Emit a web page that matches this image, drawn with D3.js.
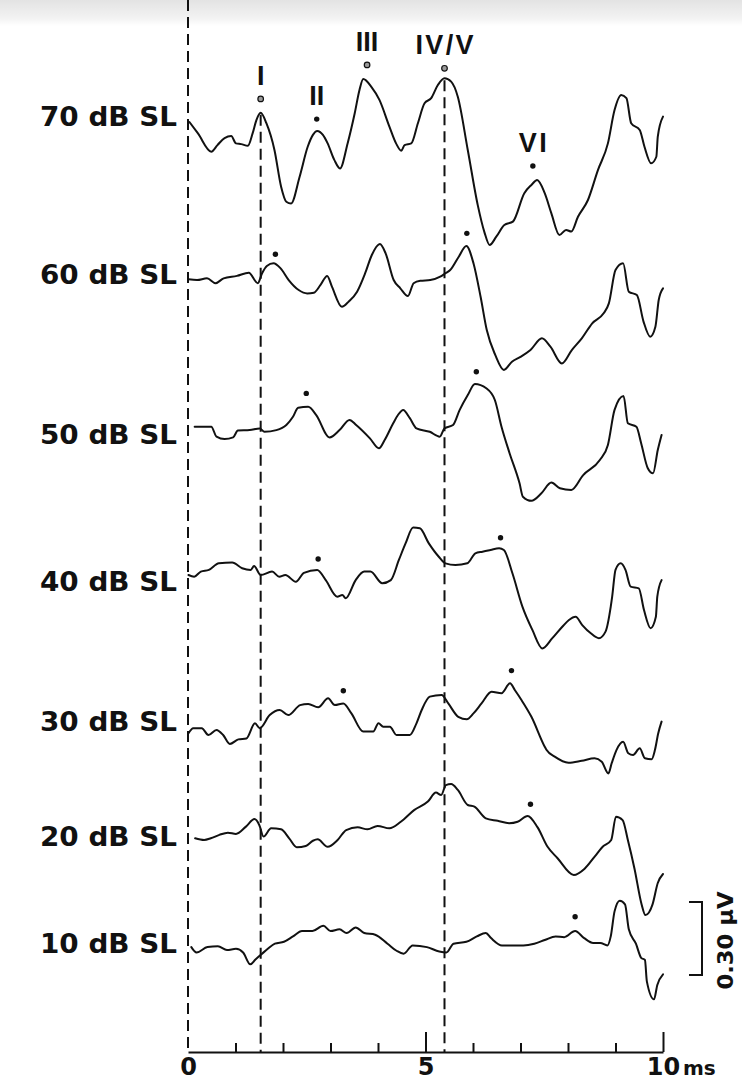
<!DOCTYPE html>
<html>
<head>
<meta charset="utf-8">
<script src="https://cdn.jsdelivr.net/npm/d3@7"></script>
<style>
  html, body { margin: 0; padding: 0; background: #fff; }
  svg { display: block; }
  text { font-family: "Liberation Sans", Arial, Helvetica, sans-serif; font-weight: bold; fill: #111; }
  text.wide { font-family: "DejaVu Sans", "Liberation Sans", Arial, sans-serif; }
</style>
</head>
<body>
<svg id="chart" width="742" height="1082"></svg>
<script>
// Stimulus levels, top to bottom
const levels = ["70 dB SL", "60 dB SL", "50 dB SL", "40 dB SL", "30 dB SL", "20 dB SL", "10 dB SL"];

// Sweeps: [latency (ms), amplitude (µV, relative to sweep start)]
const sweep70 = [[0.03,0],[0.21,-0.047],[0.49,-0.122],[0.62,-0.095],[0.77,-0.066],[0.91,-0.058],[1.01,-0.088],[1.12,-0.091],[1.26,-0.098],[1.36,-0.047],[1.44,0.008],[1.53,0.038],[1.65,-0.005],[1.82,-0.115],[1.96,-0.266],[2.07,-0.328],[2.17,-0.335],[2.35,-0.225],[2.52,-0.102],[2.63,-0.053],[2.72,-0.037],[2.84,-0.053],[2.94,-0.088],[3.08,-0.156],[3.20,-0.191],[3.36,-0.088],[3.51,0.036],[3.61,0.132],[3.69,0.177],[3.86,0.145],[4.03,0.091],[4.24,-0.019],[4.38,-0.088],[4.49,-0.118],[4.56,-0.095],[4.70,-0.088],[4.84,-0.005],[4.98,0.077],[5.12,0.098],[5.26,0.152],[5.40,0.180],[5.54,0.166],[5.68,0.104],[5.89,-0.115],[6.10,-0.342],[6.24,-0.453],[6.35,-0.506],[6.49,-0.472],[6.66,-0.424],[6.84,-0.410],[7.08,-0.293],[7.23,-0.259],[7.35,-0.239],[7.51,-0.293],[7.65,-0.376],[7.82,-0.465],[7.96,-0.444],[8.07,-0.451],[8.21,-0.390],[8.42,-0.321],[8.63,-0.198],[8.84,-0.088],[8.98,0.049],[9.12,0.111],[9.23,0.098],[9.33,-0.005],[9.51,-0.033],[9.61,-0.102],[9.75,-0.170],[9.86,-0.143],[9.89,-0.060],[10.00,0.022]];

const sweep60 = [[0.01,0],[0.19,-0.003],[0.40,0.004],[0.58,-0.016],[0.75,0.004],[1.03,0.014],[1.28,0.027],[1.47,-0.016],[1.56,0.025],[1.66,0.055],[1.80,0.066],[1.95,0.045],[2.12,-0.003],[2.33,-0.044],[2.51,-0.058],[2.65,-0.055],[2.79,-0.023],[2.93,0.014],[3.03,-0.030],[3.24,-0.113],[3.38,-0.092],[3.56,-0.051],[3.73,0.025],[3.87,0.100],[4.04,0.145],[4.16,0.107],[4.33,-0.003],[4.47,-0.037],[4.63,-0.069],[4.75,-0.016],[4.89,-0.006],[5.10,-0.003],[5.31,0.011],[5.42,0.025],[5.52,0.038],[5.70,0.093],[5.86,0.137],[6.01,0.066],[6.16,-0.072],[6.29,-0.209],[6.47,-0.312],[6.65,-0.373],[6.82,-0.339],[7.00,-0.319],[7.21,-0.291],[7.45,-0.243],[7.63,-0.277],[7.87,-0.346],[8.08,-0.291],[8.29,-0.243],[8.51,-0.181],[8.75,-0.140],[8.86,-0.099],[9.00,0.038],[9.16,0.066],[9.28,-0.051],[9.45,-0.065],[9.59,-0.174],[9.73,-0.236],[9.84,-0.195],[9.91,-0.085],[10.00,-0.037]];

const sweep50 = [[0.14,0],[0.49,0],[0.60,-0.041],[0.77,-0.051],[0.95,-0.044],[1.05,-0.016],[1.30,-0.014],[1.51,-0.007],[1.61,-0.021],[1.86,-0.014],[2.07,0.007],[2.21,0.041],[2.32,0.078],[2.53,0.082],[2.70,0.048],[2.98,-0.044],[3.19,-0.014],[3.40,0.028],[3.54,0.007],[3.83,-0.048],[4.02,-0.089],[4.14,-0.055],[4.32,0.014],[4.42,0.048],[4.53,0.069],[4.67,0.035],[4.81,-0.007],[5.09,-0.021],[5.30,-0.041],[5.40,-0.007],[5.58,0.007],[5.72,0.069],[5.89,0.130],[6.04,0.176],[6.28,0.158],[6.46,0.110],[6.60,0],[6.77,-0.109],[6.98,-0.233],[7.05,-0.288],[7.23,-0.305],[7.44,-0.274],[7.65,-0.230],[7.83,-0.253],[8.07,-0.260],[8.32,-0.199],[8.67,-0.137],[8.84,-0.075],[8.98,0.069],[9.17,0.126],[9.26,0.014],[9.44,0],[9.54,-0.068],[9.68,-0.171],[9.79,-0.192],[9.89,-0.096],[9.97,-0.034]];

const sweep40 = [[0.01,0],[0.13,-0.007],[0.27,0.014],[0.44,0.021],[0.65,0.048],[0.93,0.051],[1.14,0.028],[1.32,0.021],[1.39,0.037],[1.53,0],[1.77,0.014],[1.92,-0.007],[2.05,0],[2.27,-0.028],[2.44,0.009],[2.72,0.021],[2.90,-0.021],[3.14,-0.089],[3.25,-0.082],[3.32,-0.096],[3.53,-0.021],[3.71,0.014],[3.84,0.014],[4.09,-0.034],[4.27,-0.021],[4.44,0.062],[4.58,0.130],[4.74,0.195],[4.88,0.192],[5.07,0.130],[5.28,0.075],[5.42,0.048],[5.63,0.041],[5.88,0.048],[6.05,0.089],[6.20,0.096],[6.37,0.103],[6.55,0.110],[6.65,0.103],[6.83,0.007],[7.04,-0.130],[7.25,-0.226],[7.46,-0.302],[7.67,-0.260],[7.88,-0.213],[8.02,-0.185],[8.16,-0.172],[8.30,-0.206],[8.48,-0.240],[8.65,-0.260],[8.79,-0.233],[8.90,-0.130],[8.93,-0.089],[9.00,0.021],[9.11,0.048],[9.21,0.021],[9.32,-0.048],[9.49,-0.055],[9.60,-0.144],[9.74,-0.219],[9.85,-0.172],[9.88,-0.089],[9.97,-0.021]];

const sweep30 = [[0.01,0],[0.11,0.021],[0.29,0.021],[0.43,-0.007],[0.60,0.014],[0.74,-0.007],[0.88,-0.044],[1.06,-0.025],[1.23,-0.021],[1.41,0.041],[1.51,0.021],[1.72,0.075],[1.93,0.096],[2.11,0.075],[2.36,0.116],[2.53,0.121],[2.74,0.107],[2.95,0.144],[3.09,0.116],[3.27,0.123],[3.44,0.082],[3.69,0.007],[3.90,0.007],[4.01,0.041],[4.11,0.027],[4.25,0.027],[4.39,-0.007],[4.67,-0.007],[4.81,0.041],[4.92,0.096],[5.09,0.151],[5.34,0.158],[5.48,0.123],[5.69,0.068],[5.87,0.058],[6.01,0.082],[6.18,0.123],[6.39,0.171],[6.60,0.165],[6.78,0.206],[6.88,0.178],[7.02,0.137],[7.23,0.068],[7.51,-0.055],[7.55,-0.069],[7.72,-0.096],[8.01,-0.121],[8.29,-0.113],[8.56,-0.103],[8.71,-0.117],[8.85,-0.165],[8.92,-0.123],[9.02,-0.069],[9.16,-0.035],[9.27,-0.082],[9.37,-0.089],[9.51,-0.062],[9.62,-0.103],[9.76,-0.107],[9.83,-0.069],[9.90,0],[9.97,0.048]];

const sweep20 = [[0.15,0],[0.34,-0.007],[0.48,0],[0.66,0.014],[0.84,0.023],[1.01,0.018],[1.22,0.048],[1.40,0.079],[1.50,0.055],[1.59,0.007],[1.75,0.041],[1.96,0.037],[2.13,0],[2.29,-0.037],[2.48,-0.032],[2.63,-0.010],[2.73,-0.004],[2.94,-0.035],[3.15,-0.007],[3.33,0.034],[3.57,0.045],[3.78,0.037],[3.99,0.051],[4.24,0.041],[4.48,0.068],[4.76,0.116],[5.05,0.151],[5.22,0.188],[5.33,0.178],[5.43,0.219],[5.54,0.223],[5.68,0.199],[5.89,0.137],[6.03,0.130],[6.27,0.082],[6.52,0.072],[6.76,0.062],[6.94,0.068],[7.15,0.092],[7.36,0.045],[7.57,-0.035],[7.78,-0.082],[8.12,-0.151],[8.35,-0.125],[8.57,-0.073],[8.73,-0.035],[8.91,-0.007],[9.01,0.089],[9.15,0.075],[9.26,-0.007],[9.40,-0.125],[9.55,-0.272],[9.63,-0.316],[9.78,-0.272],[9.89,-0.184],[10.00,-0.147]];

const sweep10 = [[0.07,0],[0.18,-0.022],[0.41,0],[0.63,0.003],[0.82,-0.012],[1.01,-0.007],[1.16,-0.022],[1.31,-0.071],[1.42,-0.051],[1.56,-0.027],[1.68,-0.007],[1.83,0.014],[2.02,0.022],[2.21,0.044],[2.40,0.066],[2.62,0.066],[2.85,0.088],[3.00,0.066],[3.19,0.073],[3.34,0.058],[3.53,0.081],[3.71,0.058],[3.94,0.051],[4.20,0.014],[4.39,-0.015],[4.54,-0.027],[4.73,0.007],[5.03,0],[5.29,-0.018],[5.44,-0.022],[5.59,0.014],[5.86,0.022],[6.08,0.044],[6.27,0.058],[6.38,0.037],[6.61,0.007],[6.76,0.007],[7.06,0.007],[7.29,0.014],[7.51,0.029],[7.74,0.044],[7.92,0.041],[8.15,0.066],[8.34,0.037],[8.53,0.017],[8.68,0.017],[8.83,0.007],[8.90,0.044],[8.98,0.147],[9.09,0.191],[9.20,0.176],[9.28,0.073],[9.43,0.014],[9.54,-0.044],[9.62,-0.053],[9.66,-0.141],[9.81,-0.215],[9.88,-0.156],[10.00,-0.112]];

const sweeps = [sweep70, sweep60, sweep50, sweep40, sweep30, sweep20, sweep10];

// Marked wave peaks: [latency (ms), amplitude (µV)] per sweep
const waveNames = ["I", "II", "III", "IV/V", "VI"];
const peaks70 = [[1.53,0.095],[2.71,0.012],[3.77,0.235],[5.40,0.221],[7.26,-0.181]];
const peaks60 = [[1.84,0.103],[5.87,0.189]];
const peaks50 = [[2.49,0.137],[6.07,0.226]];
const peaks40 = [[2.74,0.066],[6.58,0.153]];
const peaks30 = [[3.27,0.175],[6.81,0.258]];
const peaks20 = [[7.21,0.140]];
const peaks10 = [[8.15,0.125]];
const peaks = [peaks70, peaks60, peaks50, peaks40, peaks30, peaks20, peaks10];
const openMarkers = ["I", "III", "IV/V"];

// Time axis
const xTicks = [0, 1, 2, 3, 4, 5, 6, 7, 8, 9, 10];
const xTickLabels = { 0: "0", 5: "5", 10: "10" };
const xUnit = "ms";

// Amplitude calibration
const scaleBarValue = 0.30;
const scaleBarLabel = "0.30 µV";

// ---------- layout ----------
const W = 742, H = 1082;
const rowY = [122, 279.3, 426.7, 575, 733.3, 838.3, 947.1];       // sweep start levels
const labelY = [117, 275, 435, 582, 722, 837, 944];                 // row label centers
const axisY = 1052;

const svg = d3.select("#chart");

// faint scanner shading along the top edge
const defs = svg.append("defs");
const grad = defs.append("linearGradient").attr("id", "topShade")
  .attr("x1", 0).attr("y1", 0).attr("x2", 0).attr("y2", 1);
grad.append("stop").attr("offset", "0%").attr("stop-color", "#000").attr("stop-opacity", 0.11);
grad.append("stop").attr("offset", "70%").attr("stop-color", "#000").attr("stop-opacity", 0.05);
grad.append("stop").attr("offset", "100%").attr("stop-color", "#000").attr("stop-opacity", 0);
svg.append("rect").attr("x", 0).attr("y", 0).attr("width", W).attr("height", 26)
  .attr("fill", "url(#topShade)");

const x = d3.scaleLinear().domain([0, 10]).range([188, 663]);
// amplitude offset in pixels relative to a row's baseline (up is positive)
const amp = d3.scaleLinear().domain([0, 1]).range([0, -243]);

const line = d3.line()
  .x(d => x(d[0]))
  .y(d => amp(d[1]))
  .curve(d3.curveMonotoneX);

// vertical dashed reference lines: stimulus onset, wave I and wave IV/V latencies
const refLines = [
  { t: 0, y0: 0 },
  { t: peaks70[0][0], y0: rowY[0] + amp(sweep70.find(d => d[0] === peaks70[0][0])[1]) + 2 },
  { t: peaks70[3][0], y0: rowY[0] + amp(sweep70.find(d => d[0] === peaks70[3][0])[1]) + 2 }
];
svg.append("g").selectAll("line").data(refLines).join("line")
  .attr("x1", d => x(d.t)).attr("x2", d => x(d.t))
  .attr("y1", d => d.y0).attr("y2", axisY)
  .attr("stroke", "#111").attr("stroke-width", 2)
  .attr("stroke-dasharray", "11,6");

// sweeps
const rows = svg.append("g").selectAll("g.row")
  .data(levels.map((lv, i) => ({ level: lv, data: sweeps[i], peaks: peaks[i], i })))
  .join("g").attr("class", "row")
  .attr("transform", d => `translate(0,${rowY[d.i]})`);

rows.append("path")
  .attr("d", d => line(d.data))
  .attr("fill", "none")
  .attr("stroke", "#111")
  .attr("stroke-width", 2)
  .attr("stroke-linejoin", "round")
  .attr("stroke-linecap", "round");

// peak markers
rows.each(function (d) {
  const g = d3.select(this);
  d.peaks.forEach((p, k) => {
    const name = d.i === 0 ? waveNames[k] : null;
    const open = name && openMarkers.includes(name);
    g.append("circle")
      .attr("cx", x(p[0])).attr("cy", amp(p[1]))
      .attr("r", open ? 2.8 : 2.7)
      .attr("fill", open ? "#9a9a9a" : "#111")
      .attr("stroke", "#111").attr("stroke-width", open ? 1.2 : 0);
    if (name) {
      const t = g.append("text")
        .attr("x", x(p[0])).attr("y", amp(p[1]) - 14)
        .attr("text-anchor", "middle")
        .attr("font-size", 27)
        .text(name);
      if (name === "IV/V") t.attr("textLength", 58).attr("lengthAdjust", "spacing");
      if (name === "VI") t.attr("textLength", 28).attr("lengthAdjust", "spacing");
    }
  });
});

// row labels
svg.append("g").selectAll("text").data(levels).join("text")
  .attr("class", "wide")
  .attr("x", 177)
  .attr("y", (d, i) => labelY[i])
  .attr("dy", "0.36em")
  .attr("text-anchor", "end")
  .attr("font-size", 26)
  .attr("textLength", 137)
  .attr("lengthAdjust", "spacingAndGlyphs")
  .text(d => d);

// time axis
const axis = d3.axisBottom(x)
  .tickValues(xTicks)
  .tickSizeInner(-9)
  .tickSizeOuter(0)
  .tickFormat(d => xTickLabels[d] || "");
const gAxis = svg.append("g").attr("transform", `translate(0,${axisY})`).call(axis);
gAxis.select(".domain").attr("stroke", "#111").attr("stroke-width", 2);
gAxis.selectAll(".tick line")
  .attr("stroke", "#111").attr("stroke-width", 2)
  .attr("y2", d => (d === 0 ? 0 : d % 5 === 0 ? -20 : -9));
gAxis.selectAll(".tick text")
  .attr("class", "wide")
  .attr("y", 23).attr("dy", 0)
  .attr("font-size", 24)
  .attr("font-family", null)
  .attr("font-weight", "bold")
  .attr("fill", "#111");
gAxis.append("text")
  .attr("class", "wide")
  .attr("x", x(10) + 20).attr("y", 23)
  .attr("text-anchor", "start")
  .attr("font-size", 20)
  .text(xUnit);

// amplitude calibration bar
const barX = 702, barBottom = 975;
const barTop = barBottom + amp(scaleBarValue);
svg.append("path")
  .attr("d", `M${barX - 13},${barTop}H${barX}V${barBottom}H${barX - 13}`)
  .attr("fill", "none").attr("stroke", "#111").attr("stroke-width", 2);
svg.append("text")
  .attr("class", "wide")
  .attr("transform", `translate(733,${(barTop + barBottom) / 2 + 2}) rotate(-90)`)
  .attr("text-anchor", "middle")
  .attr("font-size", 22)
  .attr("textLength", 98)
  .attr("lengthAdjust", "spacingAndGlyphs")
  .text(scaleBarLabel);
</script>
</body>
</html>
